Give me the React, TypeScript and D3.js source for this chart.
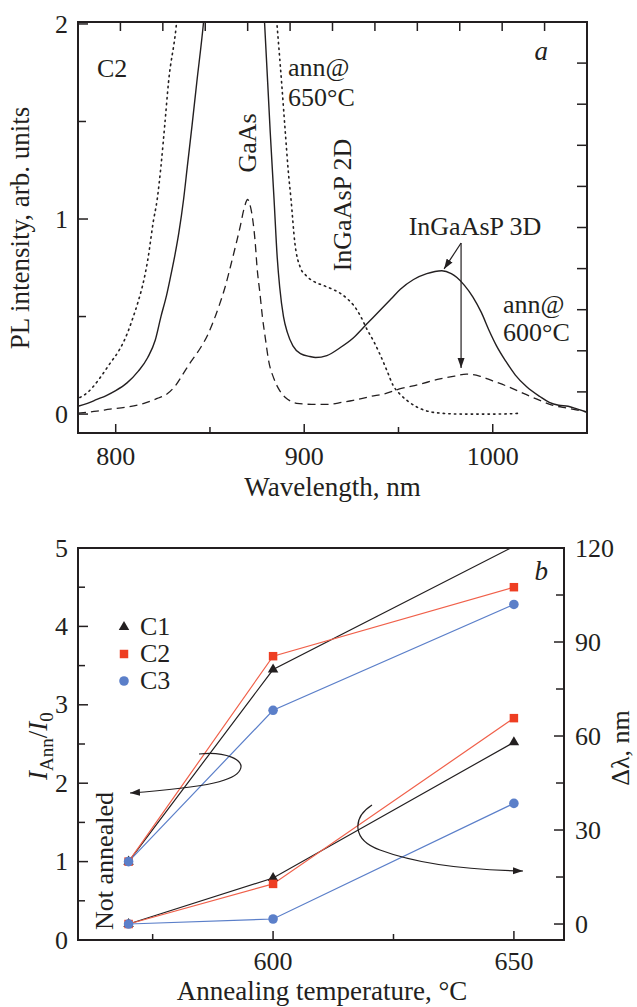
import React from 'react';
import * as d3 from 'd3';

// ---------- Panel a: PL spectra (sample C2) ----------
const solidWl = [780, 785, 790, 795, 800, 806, 812, 817, 821, 824, 827, 829, 831.5, 833.5, 836, 838, 840.5, 843, 846.5, 850, 862, 875, 879, 882, 884, 885.7, 887, 889, 891, 894, 898, 903, 906, 912, 919, 926, 933, 940, 946, 951, 958, 965, 973, 978, 981, 985, 989.5, 994, 998, 1002, 1007, 1012, 1018, 1025, 1030, 1035, 1040, 1045, 1050];
const solidPL = [0.04, 0.055, 0.075, 0.095, 0.12, 0.16, 0.22, 0.29, 0.38, 0.5, 0.61, 0.7, 0.82, 0.93, 1.1, 1.27, 1.48, 1.7, 2.0, 2.4, 3.5, 2.6, 2.0, 1.44, 1.1, 0.8, 0.65, 0.5, 0.42, 0.35, 0.31, 0.295, 0.29, 0.3, 0.34, 0.39, 0.46, 0.53, 0.59, 0.64, 0.69, 0.72, 0.735, 0.72, 0.7, 0.66, 0.6, 0.52, 0.43, 0.35, 0.27, 0.2, 0.14, 0.09, 0.06, 0.045, 0.04, 0.025, 0.01];

const dashedWl = [780, 790, 797, 805, 815, 822, 827.5, 832, 836, 840, 845, 849, 852, 855, 858, 862, 866, 868, 870, 871, 872.5, 874, 875, 876.5, 877.8, 879.5, 881, 884, 887, 890, 893, 896, 904, 912, 920, 926, 935, 943, 951, 960, 972, 980, 986, 993, 1000, 1007, 1013, 1020, 1025, 1032, 1040, 1050];
const dashedPL = [0.005, 0.015, 0.025, 0.035, 0.055, 0.08, 0.105, 0.15, 0.21, 0.27, 0.34, 0.41, 0.48, 0.56, 0.65, 0.8, 0.96, 1.05, 1.1, 1.08, 1.01, 0.88, 0.75, 0.62, 0.5, 0.38, 0.28, 0.18, 0.12, 0.085, 0.065, 0.055, 0.05, 0.05, 0.06, 0.07, 0.09, 0.105, 0.13, 0.15, 0.18, 0.195, 0.205, 0.195, 0.17, 0.145, 0.12, 0.09, 0.07, 0.045, 0.03, 0.01];

const dottedWl = [781, 785, 788, 792, 797, 802, 806, 809, 812, 815, 817, 820, 822, 824, 826, 828, 832, 835, 858, 882, 885.7, 888, 890, 891.5, 893, 895, 898, 901, 905, 910, 915, 919, 923, 926, 930, 933, 937, 940, 944, 947, 951, 954.5, 960, 966.7, 975, 984, 993, 1002, 1010, 1015];
const dottedPL = [0.085, 0.11, 0.14, 0.19, 0.26, 0.33, 0.41, 0.49, 0.58, 0.69, 0.79, 0.99, 1.1, 1.27, 1.48, 1.7, 1.98, 2.3, 5, 2.4, 1.98, 1.7, 1.44, 1.25, 1.1, 0.88, 0.75, 0.71, 0.68, 0.66, 0.64, 0.62, 0.59, 0.56, 0.5, 0.44, 0.37, 0.31, 0.22, 0.15, 0.1, 0.07, 0.035, 0.012, 0.003, 0, 0, 0, 0.002, 0.005];

const aYTicks = [0, 0.5, 1, 1.5, 2];
const aYLabels = [0, 1, 2];
const aXTicks = [800, 850, 900, 950, 1000];
const aXLabels = [800, 900, 1000];

// ---------- Panel b: annealing dependence ----------
// 570 is the x position used for the "Not annealed" points
const anneTemps = [570, 600, 650];
const samples = ['C1', 'C2', 'C3'];
const intensityC1 = [1, 3.45, 5.02];
const intensityC2 = [1, 3.62, 4.5];
const intensityC3 = [1, 2.93, 4.28];
const shiftC1 = [0, 14.7, 58];
const shiftC2 = [0, 12.8, 65.7];
const shiftC3 = [0, 1.6, 38.5];

const bLeftTicks = [0, 0.5, 1, 1.5, 2, 2.5, 3, 3.5, 4, 4.5, 5];
const bLeftLabels = [0, 1, 2, 3, 4, 5];
const bRightTicks = [0, 15, 30, 45, 60, 75, 90, 105, 120];
const bRightLabels = [0, 30, 60, 90, 120];
const bXTicks = [575, 600, 625, 650];
const bXLabels = [600, 650];

const FONT = '"Liberation Serif", "Times New Roman", Times, serif';
const INK = '#231f20';
const RED = '#ee3e22';
const RED_LINE = '#f0604a';
const BLUE = '#5b7fc9';

const A = { left: 78, right: 587, top: 22, bottom: 433 };
const B = { left: 78, right: 564, top: 548, bottom: 940 };

export default function App() {
  const xA = d3.scaleLinear().domain([780, 1050]).range([A.left, A.right]);
  const yA = d3.scaleLinear().domain([-0.097, 2.01]).range([A.bottom, A.top]);
  const topAux = d3.scaleLinear().domain([0, 12]).range([A.left, A.right]);
  const rightAux = d3.scaleLinear().domain([0, 10]).range([A.bottom, A.top]);

  const curveA = (wl: number[], pl: number[]) =>
    d3
      .line<number>()
      .x((_, i) => xA(wl[i]))
      .y((d) => yA(d))
      .curve(d3.curveMonotoneX)(pl) || '';

  const xB = d3.scaleLinear().domain([559.5, 660.4]).range([B.left, B.right]);
  const yBL = d3.scaleLinear().domain([0, 5]).range([B.bottom, B.top]);
  const yBR = d3.scaleLinear().domain([-5.1, 120]).range([B.bottom, B.top]);

  const lineB = (vals: number[], y: d3.ScaleLinear<number, number>) =>
    d3
      .line<number>()
      .x((_, i) => xB(anneTemps[i]))
      .y((d) => y(d))(vals) || '';

  const colors = [INK, RED, BLUE];
  const lineColors = [INK, RED_LINE, BLUE];
  const symbols = [d3.symbolTriangle, d3.symbolSquare, d3.symbolCircle];
  const symSizes = [48, 72, 72];
  const intens = [intensityC1, intensityC2, intensityC3];
  const shifts = [shiftC1, shiftC2, shiftC3];

  const sym = (k: number) => d3.symbol().type(symbols[k]).size(symSizes[k])() || '';

  const txt = { fontFamily: FONT, fill: INK } as const;

  return (
    <svg
      width={637}
      height={1007}
      style={{ position: 'absolute', left: 0, top: 0, background: '#fff' }}
    >
      <defs>
        <clipPath id="clipA">
          <rect x={A.left} y={A.top} width={A.right - A.left} height={A.bottom - A.top} />
        </clipPath>
        <clipPath id="clipB">
          <rect x={B.left} y={B.top} width={B.right - B.left} height={B.bottom - B.top} />
        </clipPath>
        <marker id="arr" viewBox="0 0 10 8" refX={10} refY={4} markerWidth={10} markerHeight={8} markerUnits="userSpaceOnUse" orient="auto">
          <path d="M0,0.5 L10,4 L0,7.5 Z" fill={INK} />
        </marker>
      </defs>
      <rect x={0} y={0} width={637} height={1007} fill="#fff" />

      {/* ================= Panel a ================= */}
      <g clipPath="url(#clipA)" fill="none" stroke={INK}>
        <path d={curveA(dottedWl, dottedPL)} strokeWidth={1.6} strokeDasharray="1.4 4.2" strokeLinecap="round" />
        <path d={curveA(dashedWl, dashedPL)} strokeWidth={1.3} strokeDasharray="8 5" />
        <path d={curveA(solidWl, solidPL)} strokeWidth={1.4} />
      </g>
      <rect x={A.left} y={A.top} width={A.right - A.left} height={A.bottom - A.top} fill="none" stroke={INK} strokeWidth={2} />
      {aYTicks.map((t) => (
        <line key={'ay' + t} x1={A.left} x2={A.left + (Number.isInteger(t) ? 10 : 8)} y1={yA(t)} y2={yA(t)} stroke={INK} strokeWidth={1.5} />
      ))}
      {aYLabels.map((t) => (
        <text key={'ayl' + t} x={68} y={yA(t)} dy="0.33em" textAnchor="end" fontSize={26} {...txt}>{t}</text>
      ))}
      {aXTicks.map((t) => (
        <line key={'ax' + t} x1={xA(t)} x2={xA(t)} y1={A.bottom} y2={A.bottom - (t % 100 === 0 ? 9 : 6)} stroke={INK} strokeWidth={1.5} />
      ))}
      {aXLabels.map((t) => (
        <text key={'axl' + t} x={xA(t)} y={465} textAnchor="middle" fontSize={26} {...txt}>{t}</text>
      ))}
      {d3.range(1, 12).map((k) => (
        <line key={'at' + k} x1={topAux(k)} x2={topAux(k)} y1={A.top} y2={A.top + 9} stroke={INK} strokeWidth={1.5} />
      ))}
      {d3.range(1, 10).map((k) => (
        <line key={'ar' + k} x1={A.right} x2={A.right - 10} y1={rightAux(k)} y2={rightAux(k)} stroke={INK} strokeWidth={1.5} />
      ))}
      <text x={(A.left + A.right) / 2} y={496} textAnchor="middle" fontSize={27} {...txt}>Wavelength, nm</text>
      <text transform="translate(29,228) rotate(-90)" textAnchor="middle" fontSize={27} {...txt}>PL intensity, arb. units</text>

      <text x={97} y={77} fontSize={26} {...txt}>C2</text>
      <text x={288} y={76} fontSize={26} {...txt}>ann@</text>
      <text x={288} y={106} fontSize={26} {...txt}>650°C</text>
      <text x={548} y={60} textAnchor="end" fontSize={27} fontStyle="italic" {...txt}>a</text>
      <text transform="translate(256,143) rotate(-90)" textAnchor="middle" fontSize={26} {...txt}>GaAs</text>
      <text transform="translate(351,205) rotate(-90)" textAnchor="middle" fontSize={26} {...txt}>InGaAsP 2D</text>
      <text x={475} y={235} textAnchor="middle" fontSize={26} {...txt}>InGaAsP 3D</text>
      <text x={503} y={313} fontSize={26} {...txt}>ann@</text>
      <text x={503} y={341} fontSize={26} {...txt}>600°C</text>
      <line x1={xA(983.2)} y1={yA(0.877)} x2={xA(974.2)} y2={yA(0.744)} stroke={INK} strokeWidth={1.2} markerEnd="url(#arr)" />
      <line x1={xA(983.2)} y1={yA(0.877)} x2={xA(983.2)} y2={yA(0.236)} stroke={INK} strokeWidth={1.2} markerEnd="url(#arr)" />

      {/* ================= Panel b ================= */}
      <g clipPath="url(#clipB)" fill="none">
        {[0, 1, 2].map((k) => (
          <path key={'li' + k} d={lineB(intens[k], yBL)} stroke={lineColors[k]} strokeWidth={1.2} />
        ))}
        {[0, 1, 2].map((k) => (
          <path key={'ls' + k} d={lineB(shifts[k], yBR)} stroke={lineColors[k]} strokeWidth={1.2} />
        ))}
      </g>
      {[0, 1, 2].map((k) => (
        <g key={'mk' + k} fill={colors[k]}>
          {intens[k].map((v, i) =>
            v <= 5 ? <path key={'mi' + i} d={sym(k)} transform={`translate(${xB(anneTemps[i])},${yBL(v)})`} /> : null
          )}
          {shifts[k].map((v, i) => (
            <path key={'ms' + i} d={sym(k)} transform={`translate(${xB(anneTemps[i])},${yBR(v)})`} />
          ))}
        </g>
      ))}
      <rect x={B.left} y={B.top} width={B.right - B.left} height={B.bottom - B.top} fill="none" stroke={INK} strokeWidth={2} />
      {bLeftTicks.map((t) => (
        <line key={'bl' + t} x1={B.left} x2={B.left + (Number.isInteger(t) ? 10 : 7)} y1={yBL(t)} y2={yBL(t)} stroke={INK} strokeWidth={1.5} />
      ))}
      {bLeftLabels.map((t) => (
        <text key={'bll' + t} x={68} y={yBL(t)} dy="0.33em" textAnchor="end" fontSize={26} {...txt}>{t}</text>
      ))}
      {bRightTicks.map((t) => (
        <line key={'br' + t} x1={B.right} x2={B.right - (t % 30 === 0 ? 10 : 8)} y1={yBR(t)} y2={yBR(t)} stroke={INK} strokeWidth={1.5} />
      ))}
      {bRightLabels.map((t) => (
        <text key={'brl' + t} x={575} y={yBR(t)} dy="0.33em" textAnchor="start" fontSize={26} {...txt}>{t}</text>
      ))}
      {bXTicks.map((t) => (
        <line key={'bx' + t} x1={xB(t)} x2={xB(t)} y1={B.bottom} y2={B.bottom - (t % 50 === 0 ? 9 : 6)} stroke={INK} strokeWidth={1.5} />
      ))}
      {bXLabels.map((t) => (
        <text key={'bxl' + t} x={xB(t)} y={970} textAnchor="middle" fontSize={26} {...txt}>{t}</text>
      ))}
      <text x={322} y={1000} textAnchor="middle" fontSize={27} {...txt}>Annealing temperature, °C</text>
      <text transform="translate(47,746) rotate(-90)" textAnchor="middle" fontSize={27} {...txt}>
        <tspan fontStyle="italic">I</tspan>
        <tspan fontSize={19} dy={6}>Ann</tspan>
        <tspan dy={-6}>/</tspan>
        <tspan fontStyle="italic">I</tspan>
        <tspan fontSize={19} dy={6}>0</tspan>
      </text>
      <text transform="translate(629,748) rotate(-90)" textAnchor="middle" fontSize={26} {...txt}>Δλ, nm</text>
      <text transform="translate(113,861) rotate(-90)" textAnchor="middle" fontSize={26} {...txt}>Not annealed</text>
      <text x={548} y={580} textAnchor="end" fontSize={27} fontStyle="italic" {...txt}>b</text>

      {/* legend */}
      {samples.map((s, k) => (
        <g key={'lg' + s}>
          <path d={sym(k)} transform={`translate(124,${627 + k * 27})`} fill={colors[k]} />
          <text x={140} y={635 + k * 27} fontSize={26} {...txt}>{s}</text>
        </g>
      ))}

      {/* curl arrows */}
      <path d="M199,754 C225,751 246,760 240,770 C235,780 212,787 130,793" fill="none" stroke={INK} strokeWidth={1.2} markerEnd="url(#arr)" />
      <path d="M372,805 C352,818 352,840 380,850 C420,865 470,870 523,871" fill="none" stroke={INK} strokeWidth={1.2} markerEnd="url(#arr)" />
    </svg>
  );
}
